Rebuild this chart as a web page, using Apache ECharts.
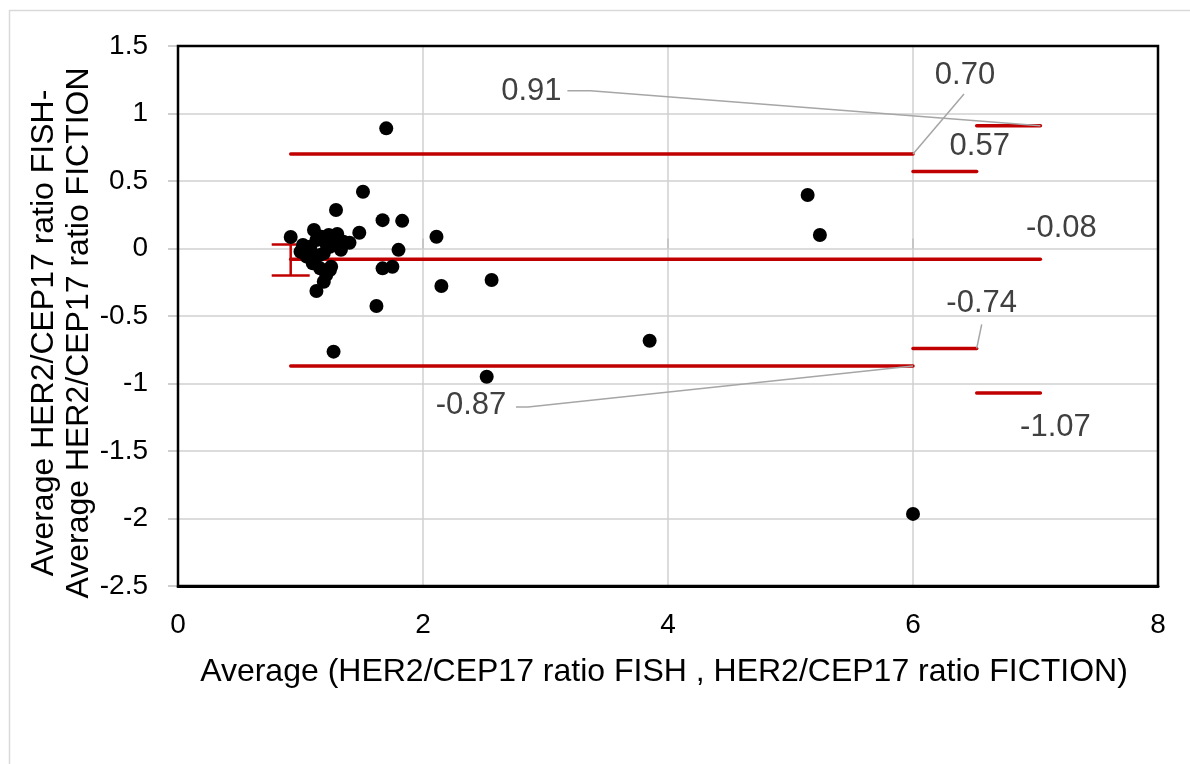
<!DOCTYPE html>
<html>
<head>
<meta charset="utf-8">
<script src="https://cdn.jsdelivr.net/npm/echarts@6/dist/echarts.min.js"></script>
<style>
html,body{margin:0;padding:0;background:#fff;}
#main{width:1190px;height:764px;}
</style>
</head>
<body>
<div id="main"></div>
<script>
// ---- Data ----
const avgX = [1.70, 1.51, 1.29, 1.67, 1.83, 0.92, 1.11, 1.48, 2.11, 1.80,
              1.67, 1.75, 2.15, 2.56, 1.62, 1.27, 1.13, 1.19, 1.25, 1.23,
              1.30, 1.40, 1.33, 1.02, 1.00, 1.05, 1.10, 1.16, 1.19, 1.24,
              1.13, 1.17, 1.08, 1.24, 1.21, 1.15, 1.20, 1.28, 1.35, 1.06,
              5.14, 5.24, 3.85, 2.52, 6.00];
const diffY = [0.89, 0.42, 0.285, 0.21, 0.205, 0.085, 0.137, 0.117, 0.087, -0.01,
               -0.147, -0.135, -0.278, -0.233, -0.426, -0.764, -0.315, -0.246, -0.135, 0.10,
               0.107, 0.043, -0.01, 0.026, -0.024, -0.06, -0.11, -0.147, -0.036, 0.013,
               0.063, 0.087, 0.013, -0.16, -0.196, -0.05, 0.05, 0.07, 0.05, 0.0,
               0.396, 0.10, -0.683, -0.95, -1.966];
const meanDiff = -0.08;
const upperLoA = 0.70;
const lowerLoA = -0.87;
const meanCI = [0.03, -0.20];
const upperLoACI = [0.57, 0.91];
const lowerLoACI = [-0.74, -1.07];
const lineStartX = 0.92;
const loaEndX = 6.0;
const ciMidX = 6.52;
const ciEndX = 7.04;
const xTicks = [0, 2, 4, 6, 8];
const yTicks = [-2.5, -2, -1.5, -1, -0.5, 0, 0.5, 1, 1.5];

// ---- Build ----
const FONT = '"Liberation Sans", Arial, sans-serif';
const RED = '#C00000';
const points = avgX.map((x, i) => [x, diffY[i]]);
const fmt = v => v.toFixed(2);

function redLine(data) {
  return {type: 'line', data: data, symbol: 'none', silent: true, z: 3,
    lineStyle: {color: RED, width: 3.5, cap: 'round'}};
}

// annotation anchors (data) with pixel offsets for text and leader start
const annots = [
  {pos: [ciEndX, upperLoACI[1]], text: fmt(upperLoACI[1]), dx: -509, dy: -34, lead: [[-473, -35], [-450, -35]]},
  {pos: [loaEndX, upperLoA], text: fmt(upperLoA), dx: 52, dy: -79, lead: [[51, -60]]},
  {pos: [ciMidX, upperLoACI[0]], text: fmt(upperLoACI[0]), dx: 3, dy: -25, lead: null},
  {pos: [ciEndX, meanDiff], text: fmt(meanDiff), dx: 21, dy: -31, lead: null},
  {pos: [ciMidX, lowerLoACI[0]], text: fmt(lowerLoACI[0]), dx: 5, dy: -45, lead: [[5, -24]]},
  {pos: [loaEndX, lowerLoA], text: fmt(lowerLoA), dx: -442, dy: 40, lead: [[-397, 41], [-385, 41]]},
  {pos: [ciEndX, lowerLoACI[1]], text: fmt(lowerLoACI[1]), dx: 15, dy: 35, lead: null}
];

const xMin = xTicks[0], xMax = xTicks[xTicks.length - 1];

const option = {
  animation: false,
  backgroundColor: '#fff',
  grid: {left: 178, right: 32, top: 46, bottom: 178, show: true, borderColor: '#000', borderWidth: 2.5, containLabel: false, z: 10},
  xAxis: [{
    type: 'value', min: xMin, max: xMax, interval: 2,
    axisLine: {show: true, onZero: false, lineStyle: {color: '#000', width: 3}},
    axisTick: {show: false},
    axisLabel: {fontFamily: FONT, fontSize: 28, color: '#000', margin: 25},
    splitLine: {show: true, showMinLine: false, showMaxLine: false, lineStyle: {color: '#d0d0d0', width: 1.5}}
  }, {
    type: 'value', min: xMin, max: xMax, interval: 2, position: 'bottom',
    axisLine: {show: false, onZero: true},
    axisTick: {show: true, inside: true, length: 10, lineStyle: {color: '#bfbfbf', width: 1.5}},
    axisLabel: {show: false},
    splitLine: {show: false}
  }],
  yAxis: {
    type: 'value', min: yTicks[0], max: yTicks[yTicks.length - 1], interval: 0.5,
    axisLine: {show: true, onZero: false, lineStyle: {color: '#000', width: 2}},
    axisTick: {show: true, length: 10, lineStyle: {color: '#bfbfbf', width: 1.5}},
    axisLabel: {fontFamily: FONT, fontSize: 28, color: '#000', margin: 30},
    splitLine: {show: true, showMinLine: false, showMaxLine: false, lineStyle: {color: '#d0d0d0', width: 1.5}}
  },
  series: [
    redLine([[lineStartX, upperLoA], [loaEndX, upperLoA]]),
    redLine([[lineStartX, meanDiff], [ciEndX, meanDiff]]),
    redLine([[lineStartX, lowerLoA], [loaEndX, lowerLoA]]),
    redLine([[loaEndX, upperLoACI[0]], [ciMidX, upperLoACI[0]]]),
    redLine([[ciMidX, upperLoACI[1]], [ciEndX, upperLoACI[1]]]),
    redLine([[loaEndX, lowerLoACI[0]], [ciMidX, lowerLoACI[0]]]),
    redLine([[ciMidX, lowerLoACI[1]], [ciEndX, lowerLoACI[1]]]),
    {
      type: 'custom', silent: true, z: 3, clip: false,
      data: [[lineStartX, meanCI[0], meanCI[1]]],
      renderItem: function (params, api) {
        const a = api.coord([api.value(0), api.value(1)]);
        const b = api.coord([api.value(0), api.value(2)]);
        const w = 19;
        const st = {stroke: RED, lineWidth: 2.5, fill: null};
        return {type: 'group', children: [
          {type: 'line', shape: {x1: a[0], y1: a[1], x2: b[0], y2: b[1]}, style: st},
          {type: 'line', shape: {x1: a[0] - w, y1: a[1], x2: a[0] + w, y2: a[1]}, style: st},
          {type: 'line', shape: {x1: b[0] - w, y1: b[1], x2: b[0] + w, y2: b[1]}, style: st}
        ]};
      }
    },
    {
      type: 'scatter', data: points, symbol: 'circle', symbolSize: 14, z: 4,
      itemStyle: {color: '#000', opacity: 1, borderWidth: 0}
    },
    {
      type: 'custom', silent: true, z: 5, clip: false,
      data: annots.map(a => a.pos),
      renderItem: function (params, api) {
        const a = annots[params.dataIndex];
        const p = api.coord([api.value(0), api.value(1)]);
        const children = [{
          type: 'text',
          style: {x: p[0] + a.dx, y: p[1] + a.dy, text: a.text, fill: '#404040',
            font: '31px ' + FONT, align: 'center', verticalAlign: 'middle'}
        }];
        if (a.lead) {
          const pts = a.lead.map(o => [p[0] + o[0], p[1] + o[1]]);
          pts.push([p[0], p[1]]);
          children.push({type: 'polyline', shape: {points: pts},
            style: {stroke: '#a6a6a6', lineWidth: 1.5, fill: null}});
        }
        return {type: 'group', children: children};
      }
    }
  ],
  graphic: [
    {type: 'rect', left: 7, top: 8, shape: {width: 1200, height: 800}, silent: true, z: -10,
      style: {fill: null, stroke: '#d9d9d9', lineWidth: 1.5}},
    {type: 'text', x: 62, y: 333, rotation: Math.PI / 2, silent: true,
      style: {text: 'Average HER2/CEP17 ratio FISH-\nAverage HER2/CEP17 ratio FICTION',
        font: '32px ' + FONT, fill: '#000', align: 'center', verticalAlign: 'middle', lineHeight: 35}},
    {type: 'text', x: 664, y: 672, silent: true,
      style: {text: 'Average (HER2/CEP17 ratio FISH , HER2/CEP17 ratio FICTION)',
        font: '32px ' + FONT, fill: '#000', align: 'center', verticalAlign: 'middle'}}
  ]
};

const chart = echarts.init(document.getElementById('main'), null, {renderer: 'canvas'});
chart.setOption(option);
</script>
</body>
</html>
